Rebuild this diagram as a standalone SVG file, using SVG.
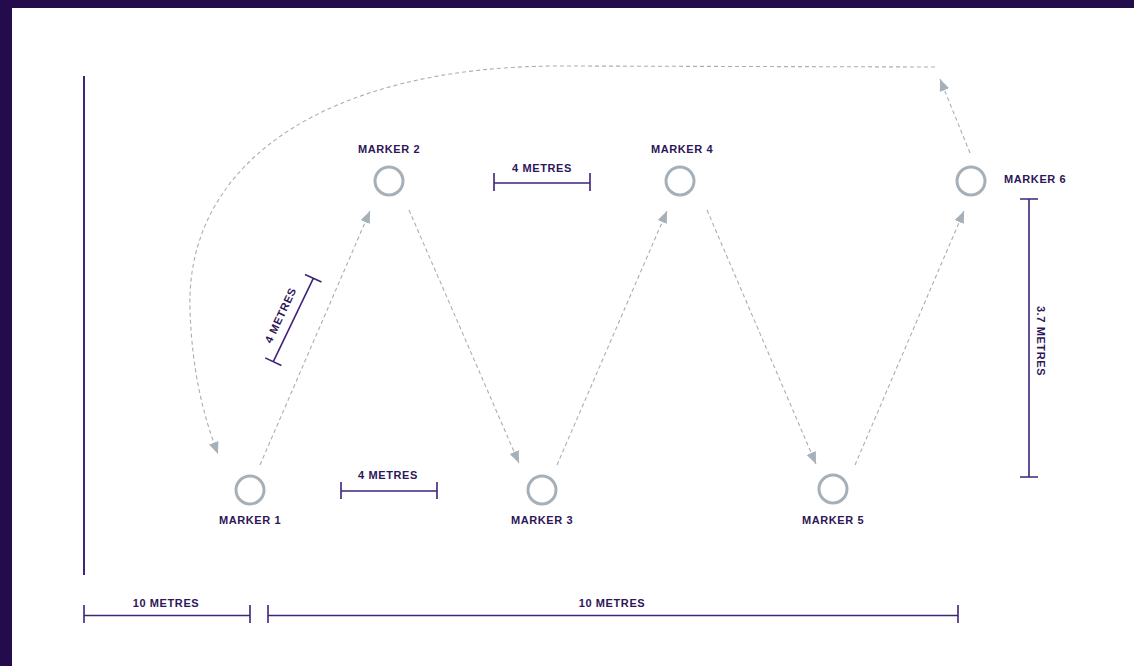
<svg xmlns="http://www.w3.org/2000/svg" width="1134" height="666" viewBox="0 0 1134 666">
<style>
.bg{fill:#240b4c}
.lbl{font-family:"Liberation Sans",Arial,sans-serif;font-weight:bold;font-size:11px;fill:#2d1659;letter-spacing:0.6px}
.dim{stroke:#3f2479;stroke-width:1.6;fill:none}
.mk{fill:#fff;stroke:#a5b0b8;stroke-width:3}
.path{stroke:#a5b0b8;stroke-width:1.1;fill:none;stroke-dasharray:4 3}
</style>
<defs>
<marker id="ah" markerUnits="userSpaceOnUse" markerWidth="13" markerHeight="11" refX="12" refY="5" orient="auto" viewBox="0 0 13 11">
<path d="M0,0 L12,5 L0,10 z" fill="#a5b0b8"/>
</marker>
</defs>
<rect class="bg" x="0" y="0" width="1134" height="666"/>
<rect x="12" y="8" width="1122" height="658" fill="#fff"/>
<line class="dim" x1="84" y1="76" x2="84" y2="575" style="stroke-width:2"/>

<g id="connectors">
<line class="path" x1="260" y1="465" x2="370" y2="211" marker-end="url(#ah)"/>
<line class="path" x1="409" y1="210" x2="519" y2="463" marker-end="url(#ah)"/>
<line class="path" x1="557" y1="465" x2="667" y2="211" marker-end="url(#ah)"/>
<line class="path" x1="707" y1="210" x2="816" y2="464" marker-end="url(#ah)"/>
<line class="path" x1="855" y1="465" x2="964" y2="211" marker-end="url(#ah)"/>
<line class="path" x1="970" y1="153" x2="940" y2="79" marker-end="url(#ah)"/>
<path class="path" d="M935,67 L560,66 C330,66 185,160 190,310 C192,370 203,415 218,454" marker-end="url(#ah)"/>
</g>

<g id="marker1"><circle class="mk" cx="250" cy="490" r="14"/><text class="lbl" x="250" y="524" text-anchor="middle">MARKER 1</text></g>
<g id="marker2"><circle class="mk" cx="389" cy="181" r="14"/><text class="lbl" x="389" y="153" text-anchor="middle">MARKER 2</text></g>
<g id="marker3"><circle class="mk" cx="542" cy="490" r="14"/><text class="lbl" x="542" y="524" text-anchor="middle">MARKER 3</text></g>
<g id="marker4"><circle class="mk" cx="680" cy="181" r="14"/><text class="lbl" x="682" y="153" text-anchor="middle">MARKER 4</text></g>
<g id="marker5"><circle class="mk" cx="833" cy="489" r="14"/><text class="lbl" x="833" y="524" text-anchor="middle">MARKER 5</text></g>
<g id="marker6"><circle class="mk" cx="971" cy="181" r="14"/><text class="lbl" x="1004" y="183">MARKER 6</text></g>

<g id="dim-4m-top">
<path class="dim" d="M494,183 H590 M494,173 V191 M590,173 V191"/>
<text class="lbl" x="542" y="172" text-anchor="middle">4 METRES</text>
</g>
<g id="dim-4m-bottom">
<path class="dim" d="M341,491 H437 M341,482 V499 M437,482 V499"/>
<text class="lbl" x="388" y="479" text-anchor="middle">4 METRES</text>
</g>
<g id="dim-4m-diag">
<path class="dim" d="M313.3,278.3 L273.3,361.7 M305,274.5 L321.5,282 M265.2,357.9 L281.4,365.5"/>
<text class="lbl" transform="translate(284,317) rotate(-64.8)" text-anchor="middle">4 METRES</text>
</g>
<g id="dim-3-7m">
<path class="dim" d="M1029,199 V477 M1020,199 H1038 M1020,477 H1038"/>
<text class="lbl" transform="translate(1037,341) rotate(90)" text-anchor="middle">3.7 METRES</text>
</g>
<g id="dim-10m-left">
<path class="dim" d="M84,615.5 H250 M84,605 V623 M250,605 V623"/>
<text class="lbl" x="166" y="607" text-anchor="middle">10 METRES</text>
</g>
<g id="dim-10m-right">
<path class="dim" d="M268,615.5 H958 M268,605 V623 M958,605 V623"/>
<text class="lbl" x="612" y="607" text-anchor="middle">10 METRES</text>
</g>
</svg>
